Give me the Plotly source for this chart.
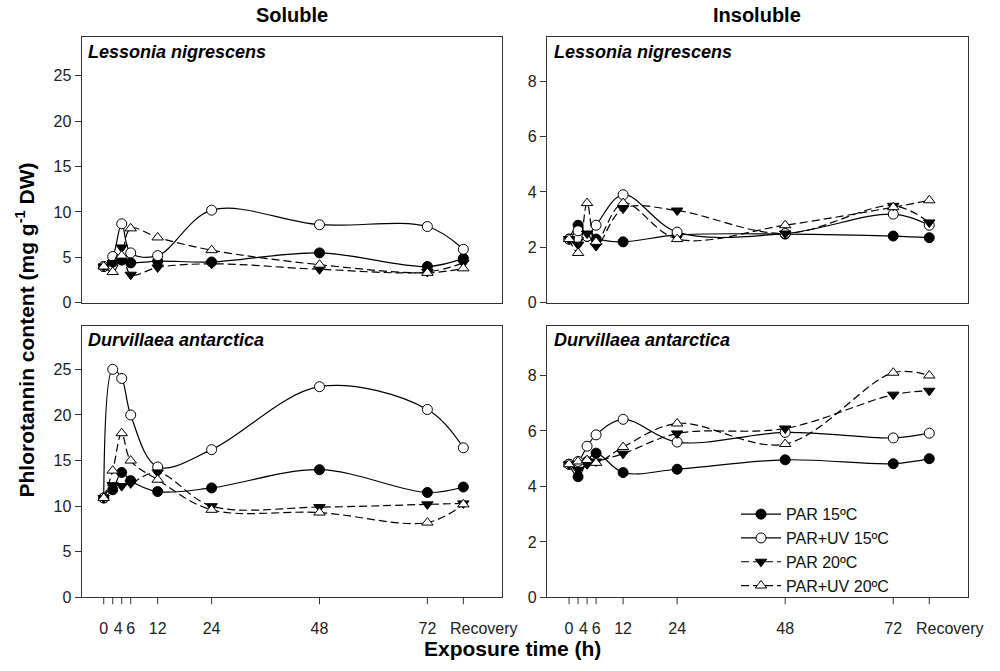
import plotly.graph_objects as go

# ---- data ----
hours = [0, 2, 4, 6, 12, 24, 48, 72, 80]  # 80 = Recovery position
tick_hours = [0, 2, 4, 6, 12, 24, 48, 72, 80]        # where tick marks sit
label_hours = [0, 3.2, 6, 12, 24, 48, 72]            # where the labels sit (as in the original)
label_text = ["0", "4", "6", "12", "24", "48", "72"]
recovery_hour = 80
recovery_label = "Recovery"

series_names = ["PAR 15ºC", "PAR+UV 15ºC", "PAR 20ºC", "PAR+UV 20ºC"]

# Soluble - Lessonia nigrescens
sol_les_par15 = [4.0, 4.5, 4.7, 4.4, 4.6, 4.5, 5.5, 4.0, 4.9]
sol_les_paruv15 = [4.0, 5.1, 8.7, 5.5, 5.2, 10.2, 8.6, 8.4, 5.9]
sol_les_par20 = [4.0, 4.4, 6.1, 3.1, 3.9, 4.3, 3.7, 3.4, 4.4]
sol_les_paruv20 = [4.0, 3.4, 5.2, 8.2, 7.2, 5.8, 4.2, 3.3, 3.8]

# Insoluble - Lessonia nigrescens
ins_les_par15 = [2.3, 2.8, 2.4, 2.3, 2.2, 2.45, 2.48, 2.41, 2.35]
ins_les_paruv15 = [2.3, 2.6, 2.4, 2.8, 3.9, 2.55, 2.5, 3.2, 2.8]
ins_les_par20 = [2.3, 2.1, 2.5, 2.05, 3.4, 3.33, 2.5, 3.5, 2.9]
ins_les_paruv20 = [2.3, 1.8, 3.6, 2.2, 3.6, 2.3, 2.8, 3.45, 3.7]

# Soluble - Durvillaea antarctica
sol_dur_par15 = [10.9, 11.8, 13.7, 12.8, 11.6, 12.0, 14.0, 11.5, 12.1]
sol_dur_paruv15 = [10.9, 25.0, 24.0, 20.0, 14.3, 16.2, 23.1, 20.6, 16.4]
sol_dur_par20 = [10.9, 12.3, 12.2, 12.5, 13.7, 10.0, 9.9, 10.2, 10.3]
sol_dur_paruv20 = [10.9, 13.9, 18.0, 15.0, 12.9, 9.6, 9.3, 8.2, 10.2]

# Insoluble - Durvillaea antarctica
ins_dur_par15 = [4.8, 4.35, 4.9, 5.2, 4.5, 4.62, 4.96, 4.82, 5.0]
ins_dur_paruv15 = [4.8, 4.9, 5.45, 5.86, 6.42, 5.6, 5.95, 5.75, 5.92]
ins_dur_par20 = [4.8, 4.6, 4.8, 4.9, 5.18, 5.91, 6.09, 7.31, 7.45]
ins_dur_paruv20 = [4.8, 4.9, 4.95, 4.85, 5.42, 6.27, 5.53, 8.1, 8.0]

panels = [
    ("x", "y", [sol_les_par15, sol_les_paruv15, sol_les_par20, sol_les_paruv20], False),
    ("x2", "y2", [ins_les_par15, ins_les_paruv15, ins_les_par20, ins_les_paruv20], False),
    ("x3", "y3", [sol_dur_par15, sol_dur_paruv15, sol_dur_par20, sol_dur_paruv20], False),
    ("x4", "y4", [ins_dur_par15, ins_dur_paruv15, ins_dur_par20, ins_dur_paruv20], True),
]

styles = [
    dict(symbol="circle", fill="black", dash="solid"),
    dict(symbol="circle", fill="white", dash="solid"),
    dict(symbol="triangle-down", fill="black", dash="8px,4px"),
    dict(symbol="triangle-up", fill="white", dash="8px,4px"),
]

FONT = "Liberation Sans, Arial, sans-serif"

fig = go.Figure()
for xa, ya, data, show in panels:
    for name, vals, st in zip(series_names, data, styles):
        fig.add_trace(go.Scatter(
            x=hours, y=vals, xaxis=xa, yaxis=ya, name=name,
            mode="lines+markers", showlegend=show,
            line=dict(color="black", width=1.2, dash=st["dash"], shape="spline", smoothing=1.0),
            marker=dict(symbol=st["symbol"], size=10, color=st["fill"],
                        line=dict(color="black", width=1)),
        ))

TOP_Y0, TOP_Y1 = 38, 307
BOT_Y0, BOT_Y1 = 330, 605.5
xl = [0.0817, 0.502]
xr = [0.547, 0.968]
yt = [1 - TOP_Y1 / 671, 1 - TOP_Y0 / 671]
yb = [1 - BOT_Y1 / 671, 1 - BOT_Y0 / 671]

def xaxis(domain, anchor, labels):
    d = dict(domain=domain, anchor=anchor, range=[-4.9, 88.6],
             showgrid=False, zeroline=False, showline=True, mirror=True,
             linecolor="#333", linewidth=1.3, ticks="",
             tickfont=dict(family=FONT, size=16, color="#222"))
    if labels:
        d.update(tickmode="array", tickvals=label_hours, ticktext=label_text, tickangle=0,
                 ticklabelstandoff=16)
    else:
        d.update(showticklabels=False)
    return d

def yaxis(domain, anchor, rng, dtick):
    return dict(domain=domain, anchor=anchor, range=rng, dtick=dtick, tick0=0,
                showgrid=False, zeroline=False, showline=True, mirror=True,
                linecolor="#333", linewidth=1.3, ticks="outside", ticklen=6,
                tickcolor="#333", tickwidth=1,
                tickfont=dict(family=FONT, size=16, color="#222"))

fig.update_layout(
    width=1000, height=671,
    margin=dict(l=0, r=0, t=0, b=0),
    paper_bgcolor="white", plot_bgcolor="white",
    font=dict(family=FONT, color="black"),
    xaxis=xaxis(xl, "y", False),
    yaxis=yaxis(yt, "x", [0, 29.2], 5),
    xaxis2=xaxis(xr, "y2", False),
    yaxis2=yaxis(yt, "x2", [0, 9.57], 2),
    xaxis3=xaxis(xl, "y3", True),
    yaxis3=yaxis(yb, "x3", [0, 29.8], 5),
    xaxis4=xaxis(xr, "y4", True),
    yaxis4=yaxis(yb, "x4", [0, 9.8], 2),
    legend=dict(x=0.736, y=1 - 504 / 671, xanchor="left", yanchor="top",
                bgcolor="rgba(0,0,0,0)", font=dict(family=FONT, size=16, color="#111"),
                tracegroupgap=0, itemwidth=40),
)

# x tick marks on the bottom axes + Recovery label
bot_h = BOT_Y1 - BOT_Y0
for xa, ya in [("x3", "y3"), ("x4", "y4")]:
    for h in tick_hours:
        fig.add_shape(type="line", xref=xa, yref=ya + " domain", x0=h, x1=h,
                      y0=0, y1=-7 / bot_h, line=dict(color="#333", width=1))
    fig.add_annotation(text=recovery_label, x=recovery_hour, y=0, xref=xa, yref=ya + " domain",
                       xanchor="left", yanchor="middle", xshift=-15, yshift=-31,
                       showarrow=False, font=dict(family=FONT, size=16, color="#222"))

ann = [
    dict(text="<b>Soluble</b>", x=292 / 1000, y=1 - 15 / 671, size=20, angle=0),
    dict(text="<b>Insoluble</b>", x=757 / 1000, y=1 - 15 / 671, size=20, angle=0),
    dict(text="<b>Exposure time (h)</b>", x=512 / 1000, y=1 - 657 / 671, size=21, angle=0),
    dict(text="<b>Phlorotannin content (mg g<sup>-1</sup> DW)</b>", x=25 / 1000, y=1 - 335 / 671, size=21, angle=-90),
]
for a in ann:
    fig.add_annotation(text=a["text"], x=a["x"], y=a["y"], xref="paper", yref="paper",
                       showarrow=False, textangle=a["angle"], xanchor="center", yanchor="middle",
                       font=dict(family=FONT, size=a["size"], color="black"))

labels = [
    ("<b><i>Lessonia nigrescens</i></b>", 86, 53),
    ("<b><i>Lessonia nigrescens</i></b>", 552, 53),
    ("<b><i>Durvillaea antarctica</i></b>", 86, 345),
    ("<b><i>Durvillaea antarctica</i></b>", 552, 345),
]
for t, px, py in labels:
    fig.add_annotation(text=t, x=px / 1000, y=1 - py / 671, xref="paper", yref="paper",
                       showarrow=False, xanchor="left", yanchor="middle",
                       font=dict(family=FONT, size=18, color="black"))

fig.write_html("out.html")
